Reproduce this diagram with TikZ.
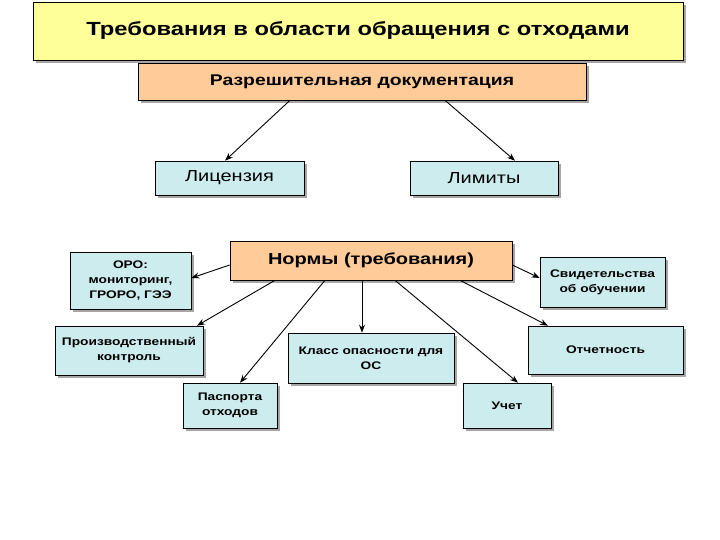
\documentclass[tikz,border=0pt]{standalone}
\usepackage{fontspec}
\setmainfont{Liberation Sans}[FakeStretch=1.25]
\usetikzlibrary{shadows,arrows.meta}
\definecolor{teal}{HTML}{CCECEE}
\definecolor{peach}{HTML}{FFCC99}
\definecolor{yel}{HTML}{FFFF99}
\tikzset{
  bx/.style={draw=black, line width=0.6pt, fill=teal, align=center, inner sep=0pt,
    drop shadow={shadow xshift=3pt, shadow yshift=-3pt, fill=gray!70, opacity=1}},
  sm/.style={font=\bfseries\fontsize{11}{15}\selectfont},
  ar/.style={-{Stealth[length=8pt,width=6pt]}, line width=0.9pt},
}
\newcommand{\bxat}[6]{\node[bx,#6, minimum width=#3-#1, minimum height=#4-#2] (#5) at ({(#1+#3)/2},{(#2+#4)/2})}
\begin{document}
\begin{tikzpicture}[x=1pt,y=-1pt]
\useasboundingbox (0,0) rectangle (720,540);
\fill[white] (0,0) rectangle (720,540);
\bxat{33}{2}{683}{60}{title}{fill=yel,font=\bfseries\fontsize{19}{22}\selectfont}{Требования в области обращения с отходами};
\bxat{138}{63}{586}{100}{razr}{fill=peach,font=\bfseries\fontsize{15.5}{18}\selectfont}{Разрешительная документация};
\bxat{155}{161}{304}{195}{lic}{font=\fontsize{16}{19}\selectfont}{Лицензия};
\bxat{410}{161}{558}{195}{lim}{font=\fontsize{16}{19}\selectfont}{Лимиты};
\bxat{230}{241}{512}{280}{norm}{fill=peach,font=\bfseries\fontsize{16}{20}\selectfont}{Нормы (требования)};
\bxat{70}{252}{191}{309}{oro}{sm}{ОРО:\\мониторинг,\\ГРОРО, ГЭЭ};
\bxat{540}{257}{665}{307}{svid}{sm}{Свидетельства\\об обучении};
\bxat{55}{326}{203}{375}{proizv}{sm}{Производственный\\контроль};
\bxat{288}{333}{454}{383}{klass}{sm}{Класс опасности для\\ОС};
\bxat{528}{326}{683}{374}{otch}{sm}{Отчетность};
\bxat{183}{383}{277}{428}{pasp}{sm}{Паспорта\\отходов};
\bxat{463}{383}{551}{428}{uchet}{sm}{Учет};
\draw[ar] (razr.south -| 290,0) -- (lic.north -| 225,0);
\draw[ar] (razr.south -| 445,0) -- (lim.north -| 515,0);
\draw[ar] (norm.west |- 0,265) -- (oro.east |- 0,278);
\draw[ar] (norm.east |- 0,265) -- (svid.west |- 0,278);
\draw[ar] (norm.south -| 275,0) -- (proizv.north -| 197,0);
\draw[ar] (norm.south -| 325,0) -- (pasp.north -| 240,0);
\draw[ar] (norm.south -| 362,0) -- (klass.north -| 362,0);
\draw[ar] (norm.south -| 395,0) -- (uchet.north -| 518,0);
\draw[ar] (norm.south -| 460,0) -- (otch.north -| 548,0);
\end{tikzpicture}
\end{document}
